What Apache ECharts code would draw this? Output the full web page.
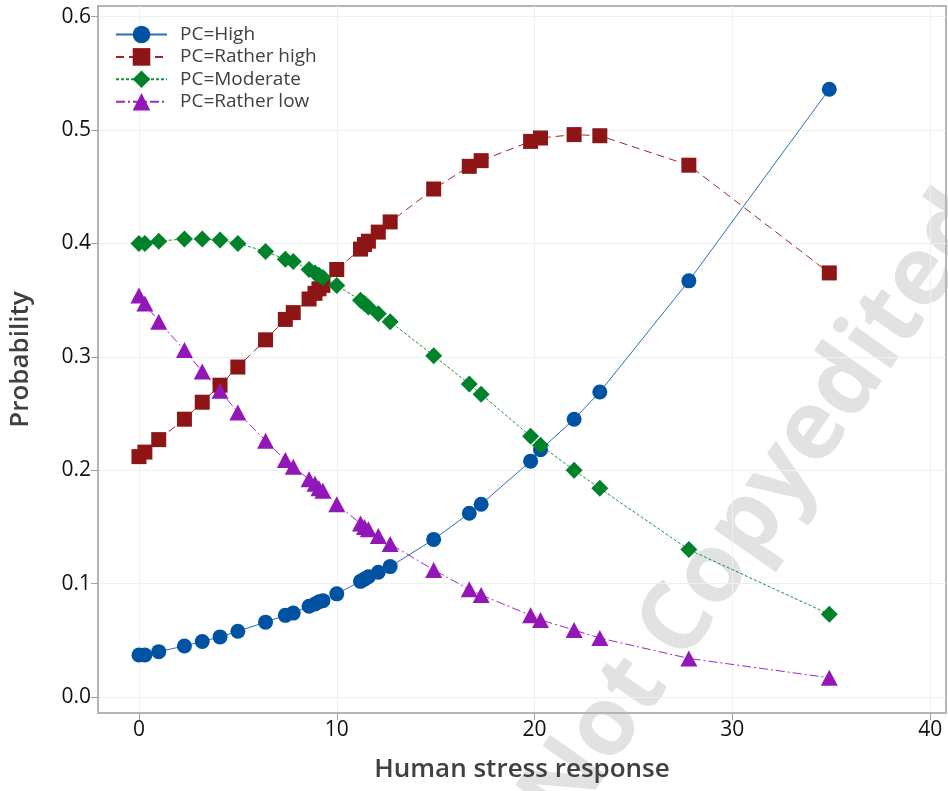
<!DOCTYPE html>
<html>
<head>
<meta charset="utf-8">
<script src="https://cdn.jsdelivr.net/npm/echarts@6/dist/echarts.min.js"></script>
<style>
html,body{margin:0;padding:0;background:#fff;}
#chart{width:948px;height:791px;}
</style>
</head>
<body>
<div id="chart"></div>
<script>
const stress = [0, 0.3, 1.0, 2.3, 3.2, 4.1, 5.0, 6.4, 7.4, 7.8, 8.6, 8.9, 9.1, 9.3, 10.0, 11.2, 11.4, 11.6, 12.1, 12.7, 14.9, 16.7, 17.3, 19.8, 20.3, 22.0, 23.3, 27.8, 34.9];
const pHigh = [0.037, 0.037, 0.040, 0.045, 0.049, 0.053, 0.058, 0.066, 0.072, 0.074, 0.080, 0.082, 0.084, 0.085, 0.091, 0.102, 0.104, 0.106, 0.110, 0.115, 0.139, 0.162, 0.170, 0.208, 0.218, 0.245, 0.269, 0.367, 0.536];
const pRatherHigh = [0.212, 0.216, 0.227, 0.245, 0.260, 0.275, 0.291, 0.315, 0.333, 0.339, 0.351, 0.356, 0.360, 0.363, 0.377, 0.395, 0.399, 0.402, 0.410, 0.419, 0.448, 0.468, 0.473, 0.490, 0.493, 0.496, 0.495, 0.469, 0.374];
const pModerate = [0.400, 0.400, 0.402, 0.404, 0.404, 0.403, 0.400, 0.393, 0.386, 0.384, 0.377, 0.374, 0.372, 0.370, 0.363, 0.350, 0.347, 0.344, 0.338, 0.331, 0.301, 0.276, 0.267, 0.230, 0.222, 0.200, 0.184, 0.130, 0.073];
const pRatherLow = [0.354, 0.347, 0.331, 0.306, 0.287, 0.270, 0.251, 0.226, 0.209, 0.203, 0.192, 0.188, 0.184, 0.182, 0.170, 0.153, 0.150, 0.148, 0.142, 0.135, 0.112, 0.095, 0.090, 0.072, 0.068, 0.059, 0.052, 0.034, 0.017];
const seriesNames = ['PC=High', 'PC=Rather high', 'PC=Moderate', 'PC=Rather low'];
const xTicks = [0, 10, 20, 30, 40];
const yTicks = [0, 0.1, 0.2, 0.3, 0.4, 0.5, 0.6];

const FONT = '"Open Sans", "Noto Sans", sans-serif';
const pairs = v => stress.map((x, i) => [x, v[i]]);

const chart = echarts.init(document.getElementById('chart'));
chart.setOption({
  animation: false,
  backgroundColor: '#ffffff',
  grid: {left: 96, right: 2, top: 6, bottom: 78, show: true, borderColor: '#b4b4b4', borderWidth: 2, containLabel: false},
  graphic: [{
    type: 'text', x: 758, y: 510, rotation: 55 * Math.PI / 180, z: -10,
    style: {text: 'Not Copyedited', font: 'bold 96px ' + FONT, fill: '#e2e2e2', align: 'center', verticalAlign: 'middle'}
  }],
  legend: {
    left: 110, top: 20, orient: 'vertical', itemWidth: 51, itemHeight: 22, itemGap: 3.4,
    textStyle: {fontFamily: FONT, fontSize: 19, color: '#404040', padding: [0, 0, 0, 8]},
    data: seriesNames
  },
  xAxis: {
    type: 'value', min: -2.07, max: 40.8, splitNumber: 4,
    name: 'Human stress response', nameLocation: 'middle', nameGap: 44,
    nameTextStyle: {fontFamily: FONT, fontSize: 26, fontWeight: 600, color: '#404040'},
    axisLine: {show: true, onZero: false, lineStyle: {color: '#b4b4b4', width: 2}},
    axisTick: {show: true, length: 7, lineStyle: {color: '#a0a0a0'}, customValues: xTicks},
    axisLabel: {fontFamily: FONT, fontSize: 21, color: '#111111', margin: 7, customValues: xTicks},
    splitLine: {show: true, lineStyle: {color: '#f0f0f0', width: 1}}
  },
  yAxis: {
    type: 'value', min: -0.0141, max: 0.6094, splitNumber: 6,
    name: 'Probability', nameLocation: 'middle', nameGap: 64,
    nameTextStyle: {fontFamily: FONT, fontSize: 26, fontWeight: 600, color: '#404040'},
    axisLine: {show: true, onZero: false, lineStyle: {color: '#b4b4b4', width: 2}},
    axisTick: {show: true, length: 7, lineStyle: {color: '#a0a0a0'}, customValues: yTicks},
    axisLabel: {fontFamily: FONT, fontSize: 21, color: '#111111', margin: 7, customValues: yTicks, formatter: v => v.toFixed(1)},
    splitLine: {show: true, lineStyle: {color: '#f0f0f0', width: 1}}
  },
  series: [
    {name: seriesNames[0], type: 'line', data: pairs(pHigh), symbol: 'circle', symbolSize: 15,
     itemStyle: {color: '#0052a3'}, lineStyle: {color: '#2a6fbb', width: 1, type: 'solid'}},
    {name: seriesNames[1], type: 'line', data: pairs(pRatherHigh), symbol: 'rect', symbolSize: 15,
     itemStyle: {color: '#8e1515'}, lineStyle: {color: '#a02525', width: 1, type: [8, 5]}},
    {name: seriesNames[2], type: 'line', data: pairs(pModerate), symbol: 'diamond', symbolSize: 17,
     itemStyle: {color: '#00822a'}, lineStyle: {color: '#1a8f3a', width: 1, type: [3, 2]}},
    {name: seriesNames[3], type: 'line', data: pairs(pRatherLow), symbol: 'triangle', symbolSize: [17, 16],
     itemStyle: {color: '#9216b8'}, lineStyle: {color: '#9a2cc0', width: 1, type: [9, 3, 2, 3]}}
  ]
});
</script>
</body>
</html>
